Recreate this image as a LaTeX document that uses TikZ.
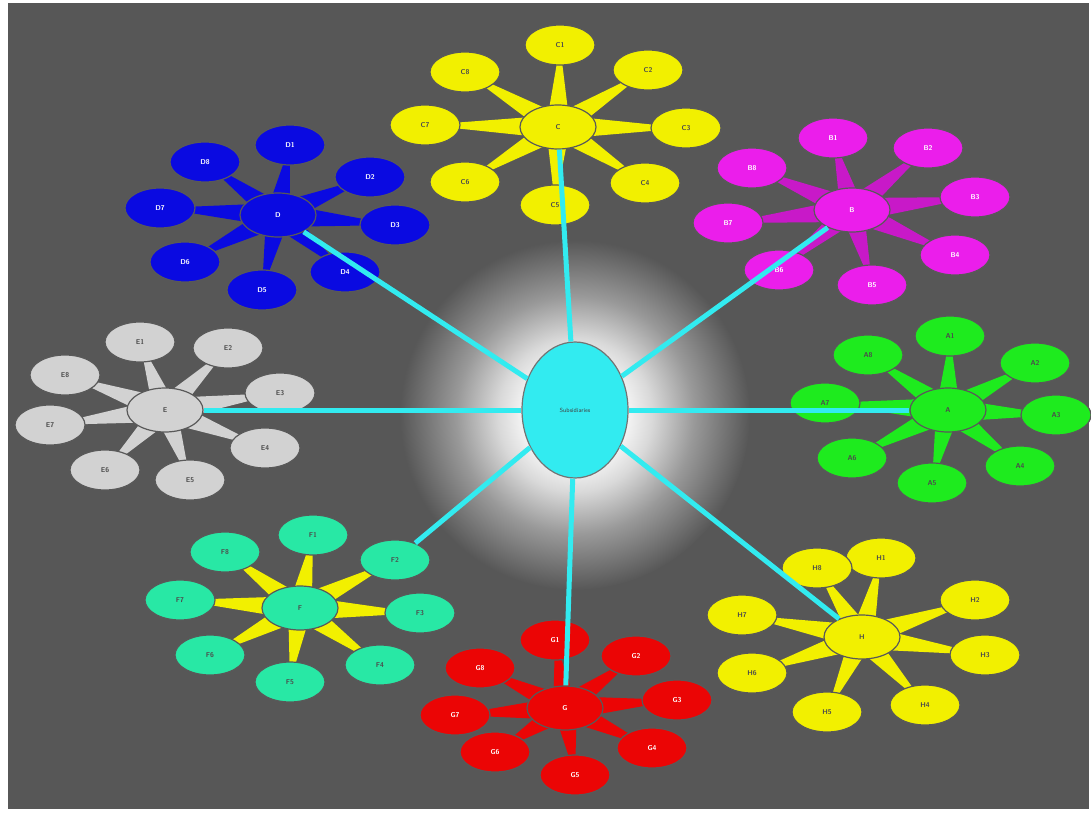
\documentclass[tikz,border=0pt]{standalone}
\usetikzlibrary{shapes.geometric,calc}
\pgfdeclarelayer{glowlayer}
\pgfdeclarelayer{spokelayer}
\pgfdeclarelayer{linklayer}
\pgfsetlayers{glowlayer,spokelayer,main,linklayer}
\pgfdeclareradialshading{centerglow}{\pgfpoint{0bp}{0bp}}{rgb(0bp)=(1,1,1); rgb(6bp)=(1,1,1); rgb(11bp)=(0.85,0.85,0.85); rgb(17bp)=(0.6,0.6,0.6); rgb(25bp)=(0.341,0.341,0.341); rgb(50bp)=(0.341,0.341,0.341)}
\definecolor{bggray}{RGB}{87,87,87}
\definecolor{cyel}{RGB}{242,240,0}
\definecolor{cblue}{RGB}{10,10,225}
\definecolor{cmag}{RGB}{235,30,235}
\definecolor{cgray}{RGB}{210,210,210}
\definecolor{cgreen}{RGB}{30,235,30}
\definecolor{cteal}{RGB}{40,232,165}
\definecolor{cred}{RGB}{235,5,5}
\definecolor{ccyan}{RGB}{50,235,240}
\newcommand\spokefill[3]{\fill[#3] ($(#1.center)!12pt!90:(#2.center)$) -- ($(#1.center)!12pt!-90:(#2.center)$) -- (#2.center) -- cycle;}
\tikzset{
  leaf/.style={ellipse, minimum width=70pt, minimum height=40pt, draw=black!65, line width=1.2pt, inner sep=0pt, font=\sffamily\bfseries\fontsize{7}{8}\selectfont},
  hub/.style={leaf, minimum width=76pt, minimum height=44pt},
  darktxt/.style={text=black!70},
  lighttxt/.style={text=white},
  link/.style={draw=ccyan, line width=5pt},
}
\begin{document}
\begin{tikzpicture}[x=1pt,y=-1pt]
\useasboundingbox (0,0) rectangle (1091,816);
\begin{pgfonlayer}{glowlayer}
\fill[white] (0,0) rectangle (1091,816);
\fill[bggray] (8,3) rectangle (1089,809);
\shade[shading=centerglow] (575,415) circle (175pt);
\end{pgfonlayer}

% center
\node[ellipse, minimum width=106pt, minimum height=136pt, fill=ccyan, draw=black!55, line width=1.2pt, text=black!75, font=\sffamily\fontsize{6}{7}\selectfont] (ctr) at (575,410) {Subsidiaries};

% C cluster (top, yellow)
\node[hub, fill=cyel, darktxt] (hC) at (558,127) {C};
\foreach \n/\t/\x/\y in {c1/C1/560/45, c2/C2/648/70, c3/C3/686/128, c4/C4/645/183, c5/C5/555/205, c6/C6/465/182, c7/C7/425/125, c8/C8/465/72}
  \node[leaf, fill=cyel, darktxt] (\n) at (\x,\y) {\t};
% D cluster (blue)
\node[hub, fill=cblue, lighttxt] (hD) at (278,215) {D};
\foreach \n/\t/\x/\y in {d1/D1/290/145, d2/D2/370/177, d3/D3/395/225, d4/D4/345/272, d5/D5/262/290, d6/D6/185/262, d7/D7/160/208, d8/D8/205/162}
  \node[leaf, fill=cblue, lighttxt] (\n) at (\x,\y) {\t};
% B cluster (magenta)
\node[hub, fill=cmag, lighttxt] (hB) at (852,210) {B};
\foreach \n/\t/\x/\y in {b1/B1/833/138, b2/B2/928/148, b3/B3/975/197, b4/B4/955/255, b5/B5/872/285, b6/B6/779/270, b7/B7/728/223, b8/B8/752/168}
  \node[leaf, fill=cmag, lighttxt] (\n) at (\x,\y) {\t};
% E cluster (gray)
\node[hub, fill=cgray, darktxt] (hE) at (165,410) {E};
\foreach \n/\t/\x/\y in {e1/E1/140/342, e2/E2/228/348, e3/E3/280/393, e4/E4/265/448, e5/E5/190/480, e6/E6/105/470, e7/E7/50/425, e8/E8/65/375}
  \node[leaf, fill=cgray, darktxt] (\n) at (\x,\y) {\t};
% A cluster (green)
\node[hub, fill=cgreen, darktxt] (hA) at (948,410) {A};
\foreach \n/\t/\x/\y in {a1/A1/950/336, a2/A2/1035/363, a3/A3/1056/415, a4/A4/1020/466, a5/A5/932/483, a6/A6/852/458, a7/A7/825/403, a8/A8/868/355}
  \node[leaf, fill=cgreen, darktxt] (\n) at (\x,\y) {\t};
% F cluster (teal)
\node[hub, fill=cteal, darktxt] (hF) at (300,608) {F};
\foreach \n/\t/\x/\y in {f1/F1/313/535, f2/F2/395/560, f3/F3/420/613, f4/F4/380/665, f5/F5/290/682, f6/F6/210/655, f7/F7/180/600, f8/F8/225/552}
  \node[leaf, fill=cteal, darktxt] (\n) at (\x,\y) {\t};
% G cluster (red)
\node[hub, fill=cred, lighttxt] (hG) at (565,708) {G};
\foreach \n/\t/\x/\y in {g1/G1/555/640, g2/G2/636/656, g3/G3/677/700, g4/G4/652/748, g5/G5/575/775, g6/G6/495/752, g7/G7/455/715, g8/G8/480/668}
  \node[leaf, fill=cred, lighttxt] (\n) at (\x,\y) {\t};
% H cluster (yellow, bottom right)
\node[hub, fill=cyel, darktxt] (hH) at (862,637) {H};
\foreach \n/\t/\x/\y in {h1/H1/881/558, h2/H2/975/600, h3/H3/985/655, h4/H4/925/705, h5/H5/827/712, h6/H6/752/673, h7/H7/742/615, h8/H8/817/568}
  \node[leaf, fill=cyel, darktxt] (\n) at (\x,\y) {\t};

\begin{pgfonlayer}{spokelayer}
\foreach \k in {c1,c2,c3,c4,c5,c6,c7,c8} \spokefill{hC}{\k}{cyel};
\foreach \k in {d1,d2,d3,d4,d5,d6,d7,d8} \spokefill{hD}{\k}{cblue};
\foreach \k in {b1,b2,b3,b4,b5,b6,b7,b8} \spokefill{hB}{\k}{cmag!85!black};
\foreach \k in {e1,e2,e3,e4,e5,e6,e7,e8} \spokefill{hE}{\k}{cgray};
\foreach \k in {a1,a2,a3,a4,a5,a6,a7,a8} \spokefill{hA}{\k}{cgreen};
\foreach \k in {f1,f2,f3,f4,f5,f6,f7,f8} \spokefill{hF}{\k}{cyel};
\foreach \k in {g1,g2,g3,g4,g5,g6,g7,g8} \spokefill{hG}{\k}{cred};
\foreach \k in {h1,h2,h3,h4,h5,h6,h7,h8} \spokefill{hH}{\k}{cyel};
\end{pgfonlayer}

\begin{pgfonlayer}{linklayer}
\foreach \t in {hC,hD,hB,hE,hA,f2,hG,hH} \draw[link] (ctr) -- (\t);
\end{pgfonlayer}
\end{tikzpicture}
\end{document}
